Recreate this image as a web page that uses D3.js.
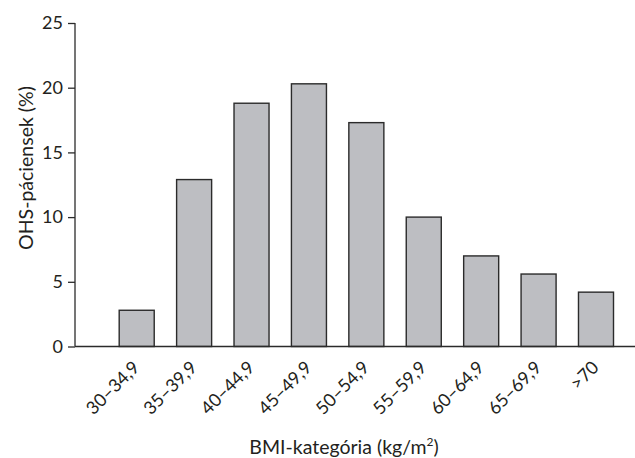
<!DOCTYPE html>
<html>
<head>
<meta charset="utf-8">
<script src="https://cdn.jsdelivr.net/npm/d3@7"></script>
<style>
  html, body { margin: 0; padding: 0; background: #fff; }
  svg { display: block; }
  text { font-family: Lato, "Open Sans", sans-serif; fill: #231f20; }
</style>
</head>
<body>
<svg id="chart" width="635" height="458"></svg>
<script>
// BMI categories and share of OHS patients in each (%)
const categories = ["30–34,9", "35–39,9", "40–44,9", "45–49,9", "50–54,9", "55–59,9", "60–64,9", "65–69,9", ">70"];
const percentages = [2.8, 12.9, 18.8, 20.3, 17.3, 10.0, 7.0, 5.6, 4.2];
const yTicks = [0, 5, 10, 15, 20, 25];
const yTitle = "OHS-páciensek (%)";
const xTitle = "BMI-kategória (kg/m";

const svg = d3.select("#chart");
const axisX = 75;      // left spine position
const baseY = 346.5;   // zero line
const topY = 23;       // value 25

const y = d3.scaleLinear().domain([0, 25]).range([baseY, topY]);
const x = d3.scaleBand()
  .domain(categories)
  .range([108, 624.7])
  .paddingInner(0.39)
  .paddingOuter(0.195);

const ink = "#2b2b2b";

// bars
svg.append("g")
  .selectAll("rect")
  .data(categories.map((c, i) => ({ c, v: percentages[i] })))
  .join("rect")
  .attr("x", d => x(d.c))
  .attr("y", d => y(d.v))
  .attr("width", x.bandwidth())
  .attr("height", d => y(0) - y(d.v))
  .attr("fill", "#bdbec2")
  .attr("stroke", ink)
  .attr("stroke-width", 1.4);

// y axis
const yAxis = svg.append("g")
  .attr("transform", `translate(${axisX},0)`)
  .call(d3.axisLeft(y).tickValues(yTicks).tickSize(7).tickPadding(5).tickFormat(d3.format("d")));
yAxis.select(".domain").attr("stroke", ink).attr("stroke-width", 1.3).attr("d", `M0,${topY}V${baseY}`);
yAxis.selectAll(".tick line").attr("stroke", ink).attr("stroke-width", 1.3);
yAxis.selectAll(".tick text").attr("font-size", 18).attr("font-family", "Lato, sans-serif").attr("fill", "#231f20");

// x baseline across the plot
svg.append("line")
  .attr("x1", axisX).attr("x2", 635)
  .attr("y1", baseY).attr("y2", baseY)
  .attr("stroke", ink).attr("stroke-width", 1.3);

// rotated category labels
const xAxis = svg.append("g")
  .attr("transform", `translate(0,${baseY})`)
  .call(d3.axisBottom(x).tickSize(0).tickPadding(0));
xAxis.select(".domain").remove();
xAxis.selectAll(".tick text")
  .attr("font-size", 18)
  .attr("font-family", "Lato, sans-serif")
  .attr("fill", "#231f20")
  .attr("text-anchor", "end")
  .attr("dy", null)
  .attr("y", null)
  .attr("transform", "translate(4,22) rotate(-45)");

// axis titles
svg.append("text")
  .attr("transform", "translate(33,168) rotate(-90)")
  .attr("text-anchor", "middle")
  .attr("font-size", 19.5)
  .text(yTitle);

const xt = svg.append("text")
  .attr("x", 344)
  .attr("y", 454)
  .attr("text-anchor", "middle")
  .attr("font-size", 19.5);
xt.append("tspan").text(xTitle);
xt.append("tspan").attr("font-size", 12).attr("dy", -8).text("2");
xt.append("tspan").attr("dy", 8).text(")");
</script>
</body>
</html>
